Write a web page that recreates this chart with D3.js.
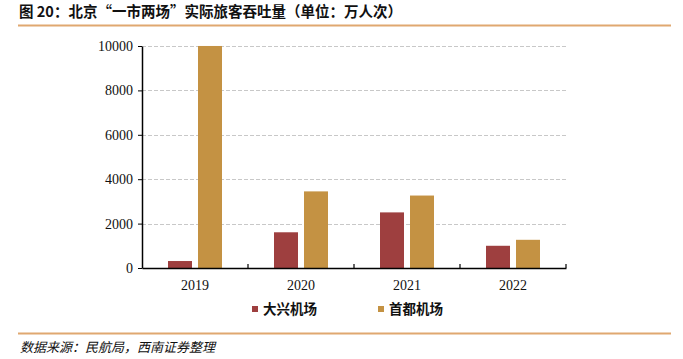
<!DOCTYPE html>
<html>
<head>
<meta charset="utf-8">
<script src="https://cdn.jsdelivr.net/npm/d3@7"></script>
<style>
  body { margin: 0; background: #fff; }
  svg { display: block; }
</style>
</head>
<body>
<div id="chart"></div>
<script>
// data
var years = ["2019", "2020", "2021", "2022"];
var seriesNames = ["大兴机场", "首都机场"];
var daxing = [314, 1609, 2505, 1001];
var shoudu = [10001, 3451, 3264, 1270];
var yTicks = [0, 2000, 4000, 6000, 8000, 10000];

var colors = ["#9e3f3f", "#c49243"];
var width = 683, height = 359;
var plotLeft = 142, plotRight = 566, plotTop = 46, plotBottom = 268;

var svg = d3.select("#chart").append("svg")
  .attr("width", width)
  .attr("height", height);

// title
svg.append("text")
  .attr("x", 19)
  .attr("y", 17)
  .attr("font-family", "Noto Sans CJK SC")
  .attr("font-weight", "bold")
  .attr("font-size", 14.5)
  .attr("fill", "#111")
  .text("图 20：北京“一市两场”实际旅客吞吐量（单位：万人次）");

svg.append("line")
  .attr("x1", 18).attr("x2", 671)
  .attr("y1", 25.5).attr("y2", 25.5)
  .attr("stroke", "#e0a870")
  .attr("stroke-width", 2);

svg.append("line")
  .attr("x1", 18).attr("x2", 671)
  .attr("y1", 333.5).attr("y2", 333.5)
  .attr("stroke", "#e0a870")
  .attr("stroke-width", 2);

svg.append("text")
  .attr("x", 20)
  .attr("y", 352)
  .attr("font-family", "Noto Sans CJK SC")
  .attr("font-style", "italic")
  .attr("font-size", 13)
  .attr("fill", "#111")
  .text("数据来源：民航局，西南证券整理");

// scales
var x = d3.scaleBand()
  .domain(years)
  .range([plotLeft, plotRight]);

var y = d3.scaleLinear()
  .domain([0, 10000])
  .range([plotBottom, plotTop]);

var plot = svg.append("g");

// gridlines
plot.selectAll(".grid")
  .data(yTicks.slice(1))
  .enter().append("line")
  .attr("class", "grid")
  .attr("x1", plotLeft).attr("x2", plotRight)
  .attr("y1", function(d) { return Math.round(y(d)) + 0.5; })
  .attr("y2", function(d) { return Math.round(y(d)) + 0.5; })
  .attr("stroke", "#c8c8c8")
  .attr("stroke-dasharray", "4,2");

// bars
var barW = 24, gap = 6;
var groups = [daxing, shoudu];
groups.forEach(function(vals, si) {
  plot.selectAll(".bar" + si)
    .data(vals)
    .enter().append("rect")
    .attr("class", "bar" + si)
    .attr("x", function(d, i) {
      var c = x(years[i]) + x.bandwidth() / 2;
      return si == 0 ? c - gap / 2 - barW : c + gap / 2;
    })
    .attr("y", function(d) { return y(d); })
    .attr("width", barW)
    .attr("height", function(d) { return plotBottom - y(d); })
    .attr("fill", colors[si]);
});

// axes
var yAxis = d3.axisLeft(y).tickValues(yTicks).tickFormat(d3.format("d"))
  .tickSize(4).tickSizeOuter(0);
var yG = plot.append("g")
  .attr("transform", "translate(" + plotLeft + ",0)")
  .call(yAxis);
yG.select(".domain").attr("stroke", "#000").attr("stroke-width", 1.5);
yG.selectAll(".tick line").attr("stroke", "#000");
yG.selectAll("text")
  .attr("font-family", "Liberation Serif")
  .attr("font-size", 14)
  .attr("fill", "#111")
  .attr("x", -9);

var xAxis = d3.axisBottom(x).tickSize(0).tickSizeOuter(0);
var xG = plot.append("g")
  .attr("transform", "translate(0," + plotBottom + ")")
  .call(xAxis);
xG.select(".domain").attr("stroke", "#000").attr("stroke-width", 1.5);
xG.selectAll("text")
  .attr("font-family", "Liberation Serif")
  .attr("font-size", 14)
  .attr("fill", "#111")
  .attr("y", 12);

// category separator ticks
var seps = years.map(function(d) { return x(d); }).concat([plotRight]);
plot.selectAll(".sep")
  .data(seps.slice(1))
  .enter().append("line")
  .attr("x1", function(d) { return d; })
  .attr("x2", function(d) { return d; })
  .attr("y1", plotBottom)
  .attr("y2", plotBottom - 4)
  .attr("stroke", "#000")
  .attr("stroke-width", 1.2);

// legend
var legendX = [252, 378];
var legend = svg.selectAll(".legend")
  .data(seriesNames)
  .enter().append("g")
  .attr("transform", function(d, i) { return "translate(" + legendX[i] + ",306)"; });
legend.append("rect")
  .attr("width", 6).attr("height", 6)
  .attr("fill", function(d, i) { return colors[i]; });
legend.append("text")
  .attr("x", 11)
  .attr("y", 8)
  .attr("font-family", "Noto Sans CJK SC")
  .attr("font-weight", "bold")
  .attr("font-size", 13.5)
  .attr("fill", "#111")
  .text(function(d) { return d; });
</script>
</body>
</html>
